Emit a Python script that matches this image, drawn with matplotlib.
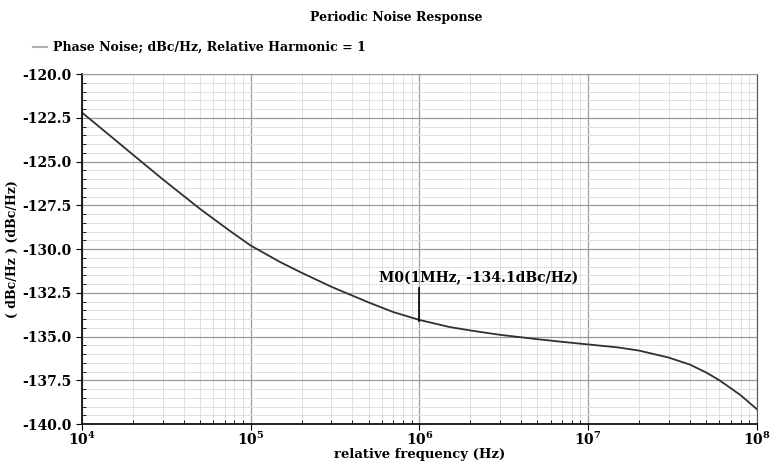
import matplotlib
matplotlib.use('Agg')
import matplotlib.pyplot as plt
from matplotlib.lines import Line2D
from matplotlib.ticker import LogLocator, MultipleLocator, FormatStrFormatter

# Phase noise curve
freq_hz = [1e4, 1.5e4, 2e4, 3e4, 5e4, 7.5e4, 1e5, 1.5e5, 2e5, 3e5, 5e5, 7e5,
           1e6, 1.5e6, 2e6, 3e6, 5e6, 7e6, 1e7, 1.5e7, 2e7, 3e7, 4e7, 5e7,
           6e7, 7e7, 8e7, 1e8]
noise_dbc = [-122.2, -123.6, -124.6, -126.0, -127.7, -128.95, -129.8,
             -130.75, -131.35, -132.15, -133.05, -133.6, -134.05, -134.45,
             -134.65, -134.9, -135.15, -135.3, -135.45, -135.62, -135.8,
             -136.2, -136.6, -137.05, -137.5, -137.95, -138.35, -139.15]

marker_freq = 1e6
marker_val = -134.1
marker_text = 'M0(1MHz, -134.1dBc/Hz)'

FONT = 'DejaVu Serif'

fig = plt.figure(figsize=(7.7, 4.66), dpi=100)
ax = fig.add_axes([0.1065, 0.090, 0.8765, 0.751])

ax.semilogx(freq_hz, noise_dbc, color='#303030', linewidth=1.3)

ax.set_xlim(1e4, 1e8)
ax.set_ylim(-140, -120)

# grid like the simulator plot
ax.xaxis.set_major_locator(LogLocator(base=10, numticks=10))
ax.xaxis.set_minor_locator(LogLocator(base=10, subs=range(2, 10), numticks=10))
ax.yaxis.set_major_locator(MultipleLocator(2.5))
ax.yaxis.set_minor_locator(MultipleLocator(0.5))
ax.yaxis.set_major_formatter(FormatStrFormatter('%.1f'))
ax.grid(which='major', color='#9a9a9a', linewidth=0.9)
ax.grid(which='minor', color='#e0e0e0', linewidth=0.7)
ax.set_axisbelow(True)

ax.tick_params(which='major', direction='out', length=4, labelsize=10)
ax.tick_params(which='minor', direction='in', length=3)
ax.tick_params(axis='x', which='major', pad=1)
for lab in ax.get_xticklabels() + ax.get_yticklabels():
    lab.set_family(FONT)
    lab.set_fontweight('bold')

for side in ['left', 'bottom']:
    ax.spines[side].set_color('black')
    ax.spines[side].set_linewidth(1.2)
ax.spines['top'].set_color('#9a9a9a')
ax.spines['right'].set_color('#555555')

ax.set_xlabel('relative frequency (Hz)', family=FONT, fontweight='bold',
              fontsize=9.5, labelpad=0)
ax.set_ylabel('( dBc/Hz ) (dBc/Hz)', family=FONT, fontweight='bold',
              fontsize=9, labelpad=2)

# marker M0
ax.plot([marker_freq, marker_freq], [marker_val, -132.2], color='black', linewidth=1.2)
ax.text(5.75e5, -132.05, marker_text, family=FONT, fontweight='bold',
        fontsize=10, ha='left', va='bottom')

fig.text(0.515, 0.963, 'Periodic Noise Response', family=FONT, fontweight='bold',
         fontsize=9, ha='center', va='center')

handle = Line2D([], [], color='#b0b0b0', linewidth=1.5)
fig.legend([handle], ['Phase Noise; dBc/Hz, Relative Harmonic = 1'],
           loc='center left', bbox_to_anchor=(0.028, 0.898), frameon=False,
           handlelength=1.1, handletextpad=0.5,
           prop={'family': FONT, 'weight': 'bold', 'size': 9})

fig.savefig('out.png', dpi=100)
